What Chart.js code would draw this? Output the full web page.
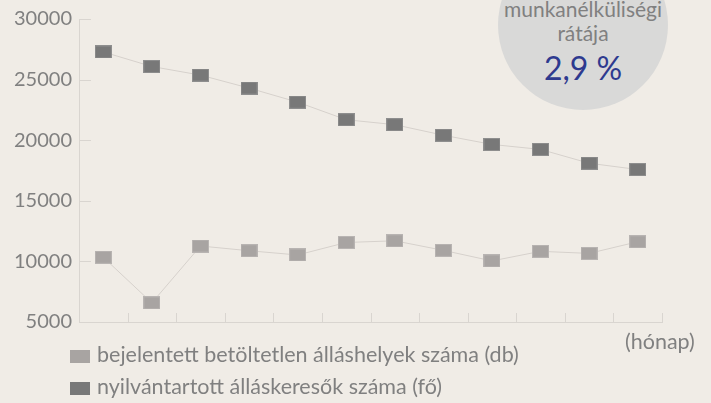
<!DOCTYPE html>
<html>
<head>
<meta charset="utf-8">
<script src="https://cdn.jsdelivr.net/npm/chart.js@4"></script>
<style>
  body { margin: 0; background: #f0ece6; }
  #wrap { position: relative; width: 711px; height: 403px; overflow: hidden; background: #f0ece6; font-family: Lato, "Open Sans", sans-serif; color: #808080; }
  #bubble { position: absolute; left: 498px; top: -60px; width: 170px; height: 170px; border-radius: 50%; background: #d9d9d8; }
  .btxt { position: absolute; left: 498px; width: 170px; text-align: center; white-space: nowrap; line-height: 1; }
  #chart { position: absolute; left: 0; top: 0; }
  .leg { position: absolute; left: 70px; font-size: 21.5px; line-height: 1; white-space: nowrap; }
  .leg span.box { display: inline-block; width: 20px; height: 13px; margin-right: 7px; vertical-align: -1px; }
  #unit { position: absolute; left: 625px; top: 331px; font-size: 21.5px; line-height: 1; }
</style>
</head>
<body>
<div id="wrap">
  <div id="bubble"></div>
  <div class="btxt" style="top:-2px;font-size:21px;">munkanélküliségi</div>
  <div class="btxt" style="top:22px;font-size:21px;">rátája</div>
  <div class="btxt" style="top:52px;font-size:32px;color:#2e3a8f;">2,9 %</div>
  <canvas id="chart" width="711" height="403"></canvas>
  <div id="unit">(hónap)</div>
  <div class="leg" style="top:344px;"><span class="box" style="background:#a8a4a2"></span>bejelentett betöltetlen álláshelyek száma (db)</div>
  <div class="leg" style="top:376px;"><span class="box" style="background:#787878"></span>nyilvántartott álláskeresők száma (fő)</div>
</div>
<script>
const months = ['jan.', 'febr.', 'márc.', 'ápr.', 'máj.', 'jún.', 'júl.', 'aug.', 'szept.', 'okt.', 'nov.', 'dec.'];
const vacancies = [10340, 6580, 11270, 10880, 10530, 11560, 11700, 10910, 10040, 10830, 10660, 11620];
const jobseekers = [27280, 26080, 25370, 24300, 23140, 21690, 21280, 20410, 19650, 19240, 18100, 17580];
const yTicks = [5000, 10000, 15000, 20000, 25000, 30000];

const axisColor = '#d9d5d0';

// wide flat marker like in the original
function makeMarker(fill, edge) {
  const c = document.createElement('canvas');
  c.width = 17;
  c.height = 13;
  const g = c.getContext('2d');
  g.fillStyle = edge;
  g.fillRect(0, 0, 17, 13);
  g.fillStyle = fill;
  g.fillRect(1, 1, 15, 11);
  return c;
}

const tickMarks = {
  id: 'tickMarks',
  beforeDatasetsDraw(chart) {
    const { ctx, scales: { x, y } } = chart;
    ctx.save();
    ctx.strokeStyle = axisColor;
    ctx.lineWidth = 1;
    ctx.beginPath();
    y.ticks.forEach((t) => {
      const py = Math.round(y.getPixelForValue(t.value)) + 0.5;
      ctx.moveTo(x.left, py);
      ctx.lineTo(x.left + 12, py);
    });
    const step = x.getPixelForValue(1) - x.getPixelForValue(0);
    for (let i = 0; i < months.length; i++) {
      const px = Math.round(x.getPixelForValue(i) + step / 2) + 0.5;
      ctx.moveTo(px, y.bottom);
      ctx.lineTo(px, y.bottom - 9);
    }
    ctx.stroke();
    ctx.restore();
  },
};

const ctx = document.getElementById('chart').getContext('2d');
new Chart(ctx, {
  type: 'line',
  data: {
    labels: months,
    datasets: [
      {
        label: 'nyilvántartott álláskeresők száma (fő)',
        data: jobseekers,
        borderColor: '#d6d1cc',
        borderWidth: 1,
        pointStyle: makeMarker('#787878', '#8e8e8e'),
        tension: 0,
      },
      {
        label: 'bejelentett betöltetlen álláshelyek száma (db)',
        data: vacancies,
        borderColor: '#d6d1cc',
        borderWidth: 1,
        pointStyle: makeMarker('#a8a4a2', '#b8b4b2'),
        tension: 0,
      },
    ],
  },
  options: {
    responsive: false,
    animation: false,
    layout: { padding: { top: 16, right: 49, left: 0, bottom: 0 } },
    plugins: {
      legend: { display: false },
      tooltip: { enabled: false },
    },
    scales: {
      x: {
        offset: true,
        grid: { display: false, drawTicks: false },
        border: { display: true, color: axisColor, width: 1 },
        ticks: { display: false },
        afterFit(scale) { scale.height = 81; },
      },
      y: {
        min: 5000,
        max: 30000,
        afterBuildTicks(scale) { scale.ticks = yTicks.map((v) => ({ value: v })); },
        grid: { display: false, drawTicks: false },
        border: { display: true, color: axisColor, width: 1 },
        ticks: {
          padding: 7,
          color: '#808080',
          font: { family: 'Lato', size: 20 },
          callback: (v) => String(v),
        },
        afterFit(scale) { scale.width = 79; },
      },
    },
  },
  plugins: [tickMarks],
});
</script>
</body>
</html>
